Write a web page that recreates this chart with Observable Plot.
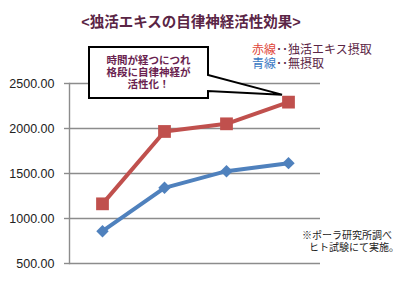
<!DOCTYPE html>
<html><head><meta charset="utf-8">
<script src="https://cdn.jsdelivr.net/npm/d3@7"></script>
<script src="https://cdn.jsdelivr.net/npm/@observablehq/plot@0.6"></script>
<style>
body{margin:0;background:#fff;}
#wrap{position:relative;width:400px;height:281px;overflow:hidden;font-family:"Liberation Sans","Noto Sans CJK JP",sans-serif;}
#wrap svg{position:absolute;left:0;top:0;}
.ov{position:absolute;white-space:nowrap;}
.ov div{height:12px;line-height:12px;}
#title{left:0;width:382px;top:12px;text-align:center;font-size:14.5px;font-weight:bold;color:#5a2545;line-height:20px;}
#legend{left:252px;top:43px;font-size:12px;color:#5a2545;}
#legend div{height:14px;line-height:14px;}
#note{left:302px;top:230px;font-size:10px;color:#222;}
#callout{left:89px;top:54px;width:119px;text-align:center;font-size:10.5px;color:#6a1f50;font-weight:bold;}
</style></head>
<body><div id="wrap"></div>
<script>
const categories = ["T1","T2","T3","T4"];
const redValues = [1163, 1967, 2052, 2293];
const blueValues = [859, 1341, 1526, 1615];
const yTicks = [500, 1000, 1500, 2000, 2500];
const titleText = "<独活エキスの自律神経活性効果>";
const legendRed = ["赤線", "･･独活エキス摂取"];
const legendBlue = ["青線", "･･無摂取"];
const calloutLines = ["時間が経つにつれ", "格段に自律神経が", "活性化！"];
const noteLines = ["※ポーラ研究所調べ", "ヒト試験にて実施。"];

const red = categories.map((c,i)=>({cat:c, value:redValues[i]}));
const blue = categories.map((c,i)=>({cat:c, value:blueValues[i]}));

const chart = Plot.plot({
  width: 400, height: 281,
  marginLeft: 69, marginRight: 80, marginTop: 83, marginBottom: 18,
  style: {fontFamily: "Liberation Sans, Arial, sans-serif", fontSize: "12.5px", background: "transparent"},
  x: {type: "point", domain: categories, padding: 0.5, axis: null},
  y: {domain: [500, 2500], label: null},
  marks: [
    Plot.ruleY(yTicks, {stroke: "#8c8c8c", strokeWidth: 1.4}),
    Plot.frame({anchor: "left", stroke: "#8c8c8c", strokeWidth: 1.4}),
    Plot.axisY({ticks: yTicks, tickFormat: d3.format(".2f"), label: null, tickSize: 5, tickPadding: 10, stroke: "#8c8c8c", strokeWidth: 1.4, fill: "#222", fontSize: 12.5}),
    Plot.line(blue, {x: "cat", y: "value", stroke: "#4F81BD", strokeWidth: 4}),
    Plot.dot(blue, {x: "cat", y: "value", symbol: "diamond2", r: 5.6, fill: "#4F81BD", stroke: "none"}),
    Plot.line(red, {x: "cat", y: "value", stroke: "#C0504D", strokeWidth: 4}),
    Plot.dot(red, {x: "cat", y: "value", symbol: "square", r: 7.2, fill: "#C0504D", stroke: "none"})
  ]
});
const wrap = document.getElementById("wrap");
wrap.appendChild(chart);

// callout box with pointer to the last red point
const xs = chart.scale("x"), ys = chart.scale("y");
const px = xs.apply(categories[3]), py = ys.apply(redValues[3]);
const tipX = px - 6, tipY = py - 7;
const bx = 89, by = 47, bw = 119, bh = 51;
const svg = d3.select(chart);
svg.insert("path", "g[aria-label=line]")
  .attr("d", `M${bx},${by}H${bx+bw}V${by+28}L${tipX},${tipY}L${bx+bw},${by+44}V${by+bh}H${bx}Z`)
  .attr("fill", "#fff").attr("stroke", "#000").attr("stroke-width", 2).attr("stroke-linejoin", "miter");

function ov(id, html){ const d=document.createElement("div"); d.className="ov"; d.id=id; d.innerHTML=html; wrap.appendChild(d); }
ov("title", titleText.replace("<","&lt;").replace(">","&gt;"));
ov("legend", `<div><span style="color:#e0463a">${legendRed[0]}</span>${legendRed[1]}</div><div><span style="color:#3a78c2">${legendBlue[0]}</span>${legendBlue[1]}</div>`);
ov("callout", calloutLines.map(l=>`<div>${l}</div>`).join(""));
ov("note", noteLines.map((l,i)=>`<div style="padding-left:${i?7:0}px">${l}</div>`).join(""));
</script></body></html>
